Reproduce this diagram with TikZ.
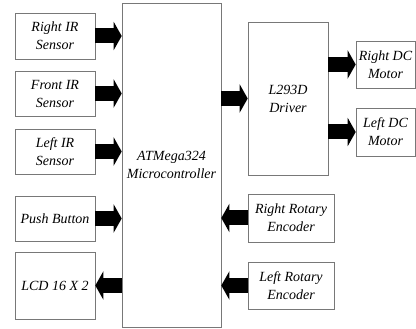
\documentclass[tikz,border=0pt]{standalone}
\usepackage{fontspec}
\setmainfont{Liberation Serif}
\definecolor{BorderColor}{RGB}{120,120,120}
\definecolor{ArrowColor}{RGB}{0,0,0}
\usepackage{tikz}
\usetikzlibrary{positioning, arrows.meta, calc}
\tikzstyle{blockbox} = [draw=BorderColor, line width=0.6pt, align=center, inner sep=1pt, font=\itshape\fontsize{14}{18}\selectfont]
\tikzstyle{bigarrow} = [ArrowColor, line width=15pt, -{Triangle[length=8pt, width=28pt]}]

\begin{document}
\begin{tikzpicture}[x=1pt, y=-1pt]
    \useasboundingbox (0,0) rectangle (416,329);

    % Microcontroller
    \node[blockbox, minimum width=99pt, minimum height=324pt] (mcu) at (171.5,165) {ATMega324\\Microcontroller};

    % Inputs and display
    \node[blockbox, minimum width=80pt, minimum height=46pt] (rir) at (55,36) {Right IR\\Sensor};
    \node[blockbox, minimum width=80pt, minimum height=45pt] (fir) at (55,93.5) {Front IR\\Sensor};
    \node[blockbox, minimum width=80pt, minimum height=45pt] (lir) at (55,151.5) {Left IR\\Sensor};
    \node[blockbox, minimum width=80pt, minimum height=45pt] (push) at (55,218.5) {Push Button};
    \node[blockbox, minimum width=80pt, minimum height=67pt] (lcd) at (55,285.5) {LCD 16 X 2};

    % Driver and motors
    \node[blockbox, minimum width=80pt, minimum height=153pt] (drv) at (288,98.5) {L293D\\Driver};
    \node[blockbox, minimum width=59pt, minimum height=47pt] (rdc) at (385.5,64.5) {Right DC\\Motor};
    \node[blockbox, minimum width=59pt, minimum height=48pt] (ldc) at (385.5,132) {Left DC\\Motor};

    % Encoders
    \node[blockbox, minimum width=86pt, minimum height=48pt] (renc) at (291,218) {Right Rotary\\Encoder};
    \node[blockbox, minimum width=86pt, minimum height=47pt] (lenc) at (291,285.5) {Left Rotary\\Encoder};

    % Arrows into the microcontroller
    \draw[bigarrow] (rir.east) -- (rir.east -| mcu.west);
    \draw[bigarrow] (fir.east) -- (fir.east -| mcu.west);
    \draw[bigarrow] (lir.east) -- (lir.east -| mcu.west);
    \draw[bigarrow] (push.east) -- (push.east -| mcu.west);
    \draw[bigarrow] (mcu.west |- lcd.east) -- (lcd.east);

    % Arrows on the right side
    \draw[bigarrow] (mcu.east |- drv.west) -- (drv.west);
    \draw[bigarrow] (drv.east |- rdc.west) -- (rdc.west);
    \draw[bigarrow] (drv.east |- ldc.west) -- (ldc.west);
    \draw[bigarrow] (renc.west) -- (renc.west -| mcu.east);
    \draw[bigarrow] (lenc.west) -- (lenc.west -| mcu.east);
\end{tikzpicture}
\end{document}
